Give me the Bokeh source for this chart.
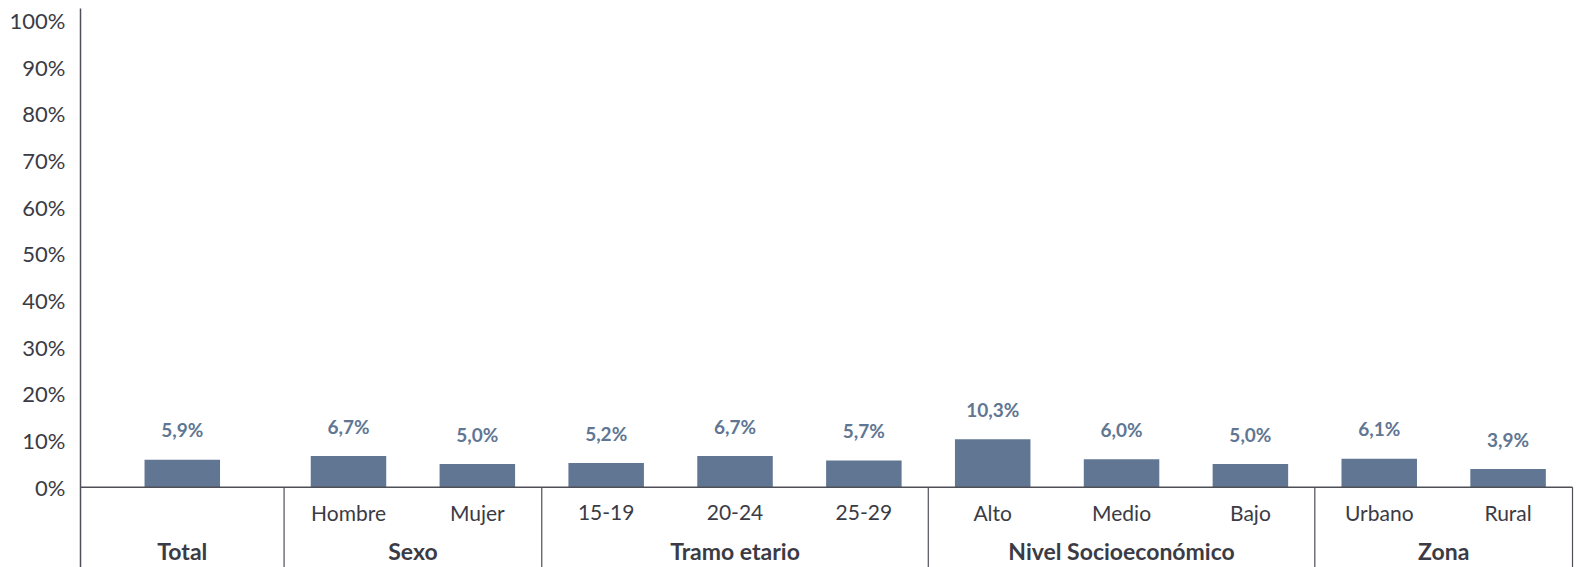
from bokeh.plotting import figure
from bokeh.models import Range1d, FixedTicker, CustomJSTickFormatter
from bokeh.core.properties import value
from bokeh.embed import file_html
from bokeh.resources import INLINE

# ---- data ----
groups = ["Total", "Sexo", "Tramo etario", "Nivel Socioeconómico", "Zona"]
categories = [[""], ["Hombre", "Mujer"], ["15-19", "20-24", "25-29"],
              ["Alto", "Medio", "Bajo"], ["Urbano", "Rural"]]
values = [[5.9], [6.7, 5.0], [5.2, 6.7, 5.7], [10.3, 6.0, 5.0], [6.1, 3.9]]
y_ticks = [0, 10, 20, 30, 40, 50, 60, 70, 80, 90, 100]

# ---- layout ----
FONT = "Lato"
BAR = "#607693"
TXT = "#3b3b45"
LINE = "#4f4f58"
single_w = 1.58
x = 0.0
centers, cat_labels, vals, bounds, gcenters = [], [], [], [0.0], []
for g, cats, vs in zip(groups, categories, values):
    w = single_w if len(cats) == 1 else float(len(cats))
    step = w / len(cats)
    for i, (c, v) in enumerate(zip(cats, vs)):
        centers.append(x + step * (i + 0.5))
        cat_labels.append(c)
        vals.append(v)
    gcenters.append(x + w / 2)
    x += w
    bounds.append(x)

x_end = bounds[-1] + 6 / 128.8
y0, y1 = -17.2, 102.57

p = figure(width=1578, height=567, output_backend="svg", toolbar_location=None,
           x_range=Range1d(0, x_end), y_range=Range1d(y0, y1),
           x_axis_type=None, min_border_left=80, min_border_right=0,
           min_border_top=8, min_border_bottom=0)
p.outline_line_color = None
p.grid.visible = False
p.background_fill_color = "white"
p.border_fill_color = "white"

ax = p.yaxis[0]
ax.ticker = FixedTicker(ticks=y_ticks)
ax.formatter = CustomJSTickFormatter(code="return tick + '%';")
ax.axis_line_color = LINE
ax.axis_line_width = 1.5
ax.major_tick_line_color = None
ax.minor_tick_line_color = None
ax.major_label_standoff = 9
ax.major_label_text_font = FONT
ax.major_label_text_font_size = "22px"
ax.major_label_text_color = TXT

p.vbar(x=centers, top=vals, bottom=0, width=0.586, fill_color=BAR, line_color=None)

# baseline and separators
p.segment(x0=[0], y0=[0], x1=[bounds[-1]], y1=[0], line_color=LINE, line_width=1.5)
p.segment(x0=bounds[1:], y0=[0] * (len(bounds) - 1), x1=bounds[1:], y1=[y0] * (len(bounds) - 1),
          line_color=LINE, line_width=1.2)

# value labels
p.text(x=centers, y=[v + 6.4 for v in vals],
       text=[("%.1f" % v).replace(".", ",") + "%" for v in vals],
       text_align="center", text_baseline="middle", text_font=value(FONT),
       text_font_size="19px", text_font_style="bold", text_color=BAR)

# category labels
p.text(x=centers, y=[-5.36] * len(centers), text=cat_labels,
       text_align="center", text_baseline="middle", text_font=value(FONT),
       text_font_size="21px", text_color=TXT)

# group labels
p.text(x=gcenters, y=[-13.7] * len(gcenters), text=groups,
       text_align="center", text_baseline="middle", text_font=value(FONT),
       text_font_size="23px", text_font_style="bold", text_color=TXT)

open("out.html", "w").write(file_html(p, INLINE))
